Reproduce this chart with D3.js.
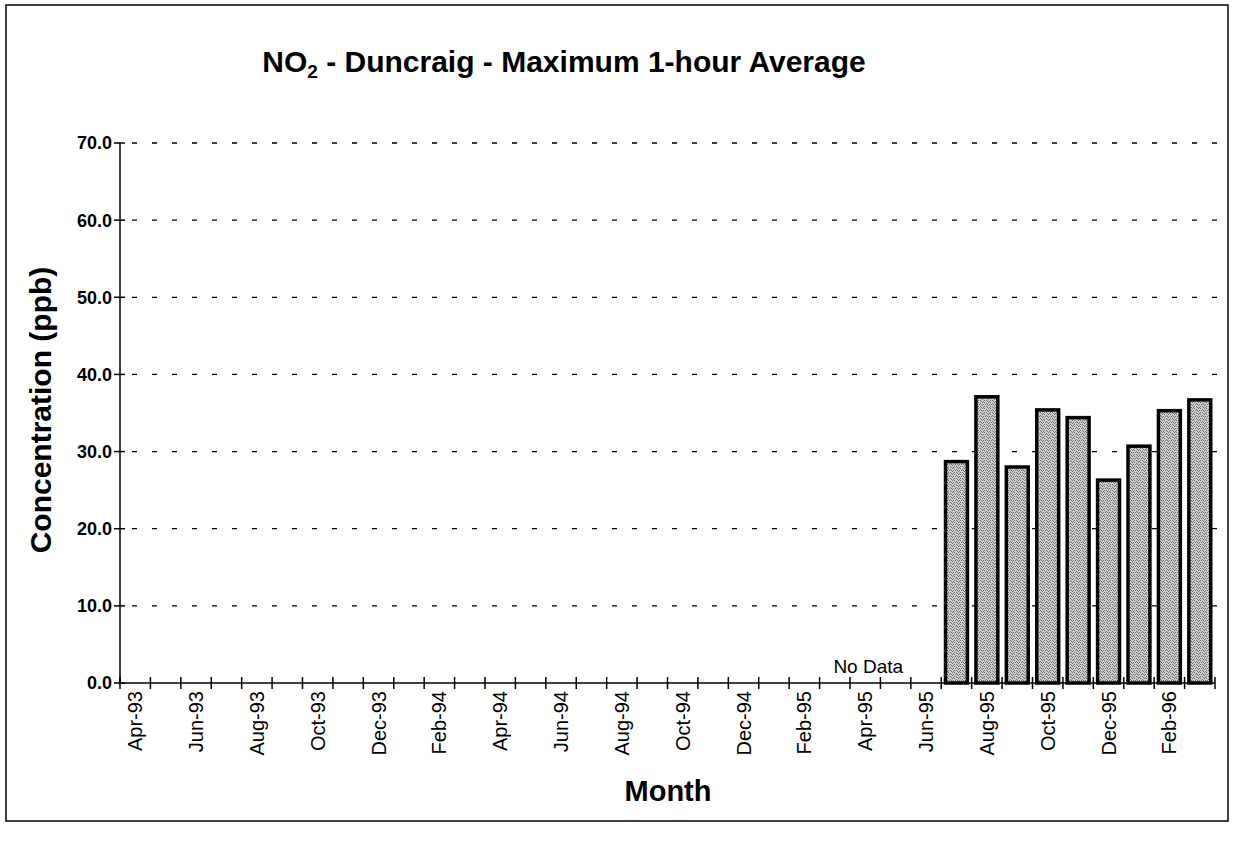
<!DOCTYPE html>
<html>
<head>
<meta charset="utf-8">
<script src="https://cdn.jsdelivr.net/npm/d3@7"></script>
<style>
  body { margin: 0; background: #fff; }
  svg { display: block; font-family: "Liberation Sans", Arial, Helvetica, sans-serif; }
</style>
</head>
<body>
<script>
// Months on the x axis (Apr-93 .. Mar-96)
const months = [
    'Apr-93', 'May-93', 'Jun-93', 'Jul-93', 'Aug-93', 'Sep-93', 'Oct-93', 'Nov-93', 'Dec-93',
    'Jan-94', 'Feb-94', 'Mar-94', 'Apr-94', 'May-94', 'Jun-94', 'Jul-94', 'Aug-94', 'Sep-94',
    'Oct-94', 'Nov-94', 'Dec-94', 'Jan-95', 'Feb-95', 'Mar-95', 'Apr-95', 'May-95', 'Jun-95',
    'Jul-95', 'Aug-95', 'Sep-95', 'Oct-95', 'Nov-95', 'Dec-95', 'Jan-96', 'Feb-96', 'Mar-96'
];

// Months that have a measured value
const dataMonths = ['Jul-95', 'Aug-95', 'Sep-95', 'Oct-95', 'Nov-95', 'Dec-95', 'Jan-96', 'Feb-96', 'Mar-96'];
const no2Values = [28.7, 37.1, 28.0, 35.4, 34.4, 26.3, 30.7, 35.3, 36.7];

// Y ticks
const yTicks = [0, 10, 20, 30, 40, 50, 60, 70];

const width = 1234, height = 845;
const plot = { left: 120, right: 1215, top: 143, bottom: 683 };

const svg = d3.select("body").append("svg")
    .attr("width", width)
    .attr("height", height);

// speckled grey fill like the printed halftone
const pat = svg.append("defs").append("pattern")
    .attr("id", "stipple")
    .attr("width", 6).attr("height", 6)
    .attr("patternUnits", "userSpaceOnUse");
pat.append("rect").attr("width", 6).attr("height", 6).attr("fill", "#cfcfcf");
[[0, 0], [4, 0], [2, 1], [1, 2], [3, 2], [5, 2], [4, 3], [0, 4], [2, 4], [3, 5], [5, 5]].forEach(p => {
    pat.append("rect").attr("x", p[0]).attr("y", p[1])
        .attr("width", 1).attr("height", 1).attr("fill", "#6e6e6e");
});

// outer frame
svg.append("rect")
    .attr("x", 6).attr("y", 5)
    .attr("width", 1222).attr("height", 816)
    .attr("fill", "none")
    .attr("stroke", "#000")
    .attr("stroke-width", 1.5);

const x = d3.scaleBand()
    .domain(months)
    .range([plot.left, plot.right])
    .paddingInner(0.28)
    .paddingOuter(0.14);

const y = d3.scaleLinear()
    .domain([0, 70])
    .range([plot.bottom, plot.top]);

const step = x.step();
const edge = m => plot.left + months.indexOf(m) * step;

// Gridlines (dashed)
svg.append("g")
    .selectAll("line")
    .data(yTicks.filter(d => d > 0))
    .enter().append("line")
    .attr("x1", plot.left + 12)
    .attr("x2", plot.right + 2)
    .attr("y1", d => y(d))
    .attr("y2", d => y(d))
    .attr("stroke", "#000")
    .attr("stroke-width", 1.3)
    .attr("stroke-dasharray", "5,15");

// Bars
const data = dataMonths.map((m, i) => ({ month: m, value: no2Values[i] }));
svg.append("g")
    .selectAll("rect")
    .data(data)
    .enter().append("rect")
    .attr("x", d => x(d.month))
    .attr("y", d => y(d.value))
    .attr("width", x.bandwidth())
    .attr("height", d => y(0) - y(d.value))
    .attr("fill", "url(#stipple)")
    .attr("stroke", "#000")
    .attr("stroke-width", 3.5);

// Y axis
const yAxis = svg.append("g");
yAxis.append("line")
    .attr("x1", plot.left).attr("x2", plot.left)
    .attr("y1", plot.top).attr("y2", plot.bottom)
    .attr("stroke", "#000").attr("stroke-width", 1.5);
yAxis.selectAll(".tick")
    .data(yTicks)
    .enter().append("line")
    .attr("x1", plot.left - 6).attr("x2", plot.left + 5)
    .attr("y1", d => y(d)).attr("y2", d => y(d))
    .attr("stroke", "#000").attr("stroke-width", 1.5);
yAxis.selectAll("text")
    .data(yTicks)
    .enter().append("text")
    .attr("x", plot.left - 8)
    .attr("y", d => y(d))
    .attr("dy", "0.36em")
    .attr("text-anchor", "end")
    .attr("font-size", 18)
    .attr("font-weight", "bold")
    .text(d => d3.format(".1f")(d));

// X axis
const xAxis = svg.append("g");
xAxis.append("line")
    .attr("x1", plot.left).attr("x2", plot.right)
    .attr("y1", plot.bottom).attr("y2", plot.bottom)
    .attr("stroke", "#000").attr("stroke-width", 1.5);
xAxis.selectAll(".tick")
    .data(d3.range(months.length + 1))
    .enter().append("line")
    .attr("x1", i => plot.left + i * step)
    .attr("x2", i => plot.left + i * step)
    .attr("y1", plot.bottom - 6).attr("y2", plot.bottom + 6)
    .attr("stroke", "#000").attr("stroke-width", 1.5);
xAxis.selectAll("text")
    .data(months.filter((m, i) => i % 2 === 0))
    .enter().append("text")
    .attr("transform", m => `translate(${x(m) + x.bandwidth() / 2 + 7},${plot.bottom + 8}) rotate(-90)`)
    .attr("text-anchor", "end")
    .attr("font-size", 20)
    .text(m => m);

// No Data note
svg.append("text")
    .attr("x", edge('Apr-95') + step * 0.6)
    .attr("y", plot.bottom - 10)
    .attr("text-anchor", "middle")
    .attr("font-size", 19)
    .text("No Data");

// Title
const title = svg.append("text")
    .attr("x", 564)
    .attr("y", 72)
    .attr("text-anchor", "middle")
    .attr("font-size", 30)
    .attr("font-weight", "bold");
title.append("tspan").text("NO");
title.append("tspan").attr("font-size", 19).attr("dy", 6).text("2");
title.append("tspan").attr("dy", -6).text(" - Duncraig - Maximum 1-hour Average");

// Axis titles
svg.append("text")
    .attr("transform", `translate(51,410) rotate(-90)`)
    .attr("text-anchor", "middle")
    .attr("font-size", 30)
    .attr("font-weight", "bold")
    .text("Concentration (ppb)");

svg.append("text")
    .attr("x", 668)
    .attr("y", 801)
    .attr("text-anchor", "middle")
    .attr("font-size", 29)
    .attr("font-weight", "bold")
    .text("Month");
</script>
</body>
</html>
